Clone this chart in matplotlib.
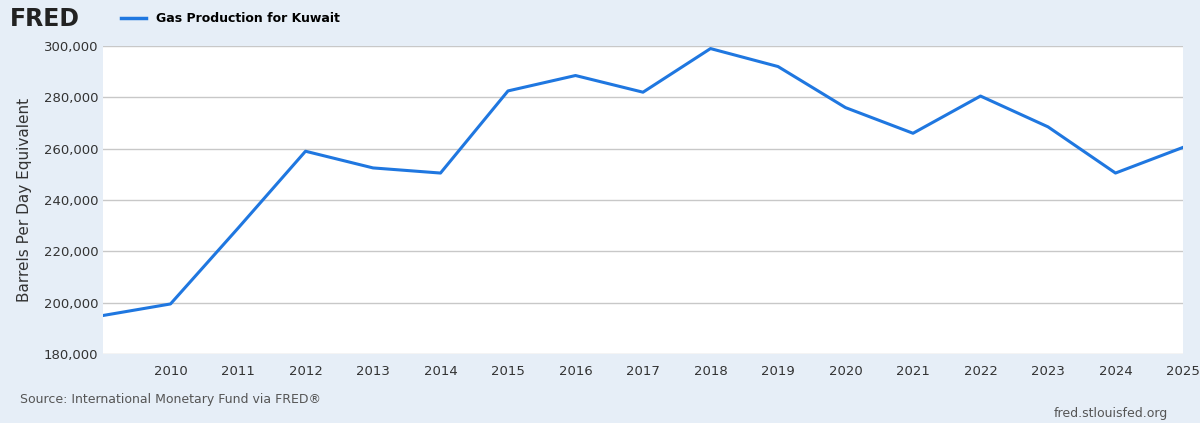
import matplotlib.pyplot as plt
from matplotlib.ticker import FuncFormatter

years = list(range(2009, 2026))
values = [195000, 199500, 229000, 259000, 252500, 250500, 282500, 288500, 282000,
          299000, 292000, 276000, 266000, 280500, 268500, 250500, 260500]
series_name = "Gas Production for Kuwait"

bg = "#e6eef7"
fig = plt.figure(figsize=(12, 4.23), dpi=100, facecolor=bg)
ax = fig.add_axes([103/1200, 1-354/423, 1080/1200, 308/423])
ax.set_facecolor("white")
ax.plot(years, values, color="#1f77e0", lw=2.2)
ax.set_xlim(2009, 2025)
ax.set_ylim(180000, 300000)
ax.set_yticks(range(180000, 300001, 20000))
ax.set_xticks(range(2010, 2026))
ax.yaxis.set_major_formatter(FuncFormatter(lambda v, p: f"{int(v):,}"))
ax.grid(axis="y", color="#c8c8c8", lw=1)
for s in ax.spines.values():
    s.set_visible(False)
ax.tick_params(axis="both", length=0, labelsize=9.5, colors="#333333")
ax.tick_params(axis="x", pad=8)
ax.set_ylabel("Barrels Per Day Equivalent", fontsize=11, color="#333333", labelpad=8)

fig.text(0.008, 0.955, "FRED", fontsize=17, fontweight="bold", color="#222222", va="center")
ax.legend([plt.Line2D([], [], color="#1f77e0", lw=2.5)], [series_name], loc="lower left",
          frameon=False, prop={"size": 9, "weight": "bold"},
          handlelength=2, borderaxespad=0.3)
leg = ax.get_legend()
leg.set_bbox_to_anchor((112/1200, 0.92), transform=fig.transFigure)
fig.text(20/1200, 1-399/423, "Source: International Monetary Fund via FRED®", fontsize=9, color="#555555", va="center")
fig.text(1168/1200, 1-413/423, "fred.stlouisfed.org", fontsize=9, color="#555555", va="center", ha="right")
fig.savefig("out.png", facecolor=bg)
